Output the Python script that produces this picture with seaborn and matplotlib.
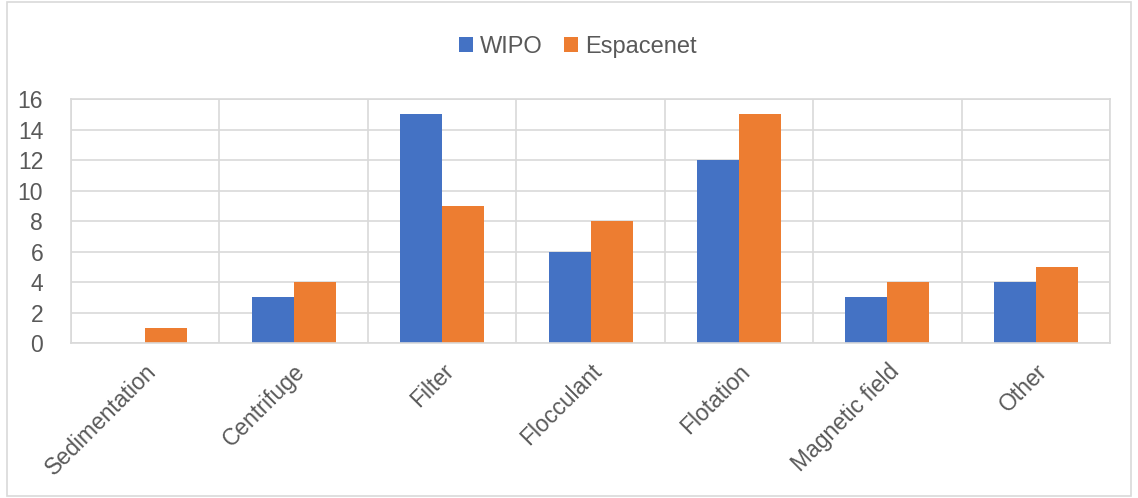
import matplotlib
matplotlib.use("Agg")
import matplotlib.pyplot as plt
import seaborn as sns
import pandas as pd
import numpy as np
from matplotlib.patches import Rectangle

categories = ["Sedimentation", "Centrifuge", "Filter", "Flocculant",
              "Flotation", "Magnetic field", "Other"]
wipo = [0, 3, 15, 6, 12, 3, 4]
espacenet = [1, 4, 9, 8, 15, 4, 5]
series_names = ["WIPO", "Espacenet"]
yticks = [0, 2, 4, 6, 8, 10, 12, 14, 16]

df = pd.DataFrame({
    "category": categories * 2,
    "value": wipo + espacenet,
    "source": [series_names[0]] * len(categories) + [series_names[1]] * len(categories),
})

sns.set_theme(style="white")
plt.rcParams["font.family"] = ["Liberation Sans", "DejaVu Sans"]
text_color = "#595959"
grid_color = "#D9D9D9"
fs = 16.5

fig = plt.figure(figsize=(11.38, 4.98), dpi=100)
ax = fig.add_axes([0.0624, 0.311, 0.913, 0.490])

sns.barplot(data=df, x="category", y="value", hue="source",
            palette=["#4472C4", "#ED7D31"], width=0.566, ax=ax,
            saturation=1, legend=True, linewidth=0, edgecolor="none")

ax.set_ylim(0, 16)
ax.set_xlim(-0.5, len(categories) - 0.5)
ax.set_yticks(yticks)
ax.set_yticklabels([str(v) for v in yticks], fontsize=fs, color=text_color)
ax.set_xticks(range(len(categories)))
ax.set_xticklabels(categories, fontsize=fs, color=text_color,
                   rotation=45, ha="right", rotation_mode="anchor")
ax.set_xticks(np.arange(-0.5, len(categories), 1), minor=True)
ax.tick_params(axis="both", length=0, which="both")
ax.tick_params(axis="y", pad=20)
ax.tick_params(axis="x", pad=12)
ax.set_xlabel("")
ax.set_ylabel("")

ax.grid(axis="y", color=grid_color, linewidth=1.2)
ax.grid(axis="x", which="minor", color=grid_color, linewidth=1.2)
ax.set_axisbelow(True)
for s in ax.spines.values():
    s.set_color(grid_color)
    s.set_linewidth(1.2)

handles, labels = ax.get_legend_handles_labels()
ax.get_legend().remove()
fig.legend(handles, labels, loc="center", bbox_to_anchor=(0.508, 0.905),
           ncol=2, frameon=False, fontsize=17, labelcolor=text_color,
           handlelength=0.6, handleheight=0.6, handletextpad=0.3,
           columnspacing=0.9)

fig.patches.append(Rectangle((0.006, 0.004), 0.988, 0.992, transform=fig.transFigure,
                             fill=False, edgecolor=grid_color, linewidth=1.2))

fig.savefig("out.png", dpi=100)
